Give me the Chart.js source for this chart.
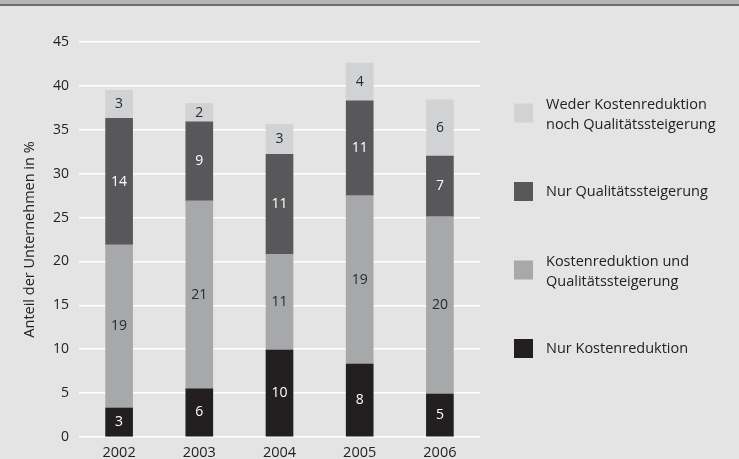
<!DOCTYPE html>
<html>
<head>
<meta charset="utf-8">
<script src="https://cdn.jsdelivr.net/npm/chart.js@4/dist/chart.umd.min.js"></script>
<style>
  body { margin: 0; background: #e4e4e4; }
  #wrap { width: 739px; height: 459px; position: relative; }
</style>
</head>
<body>
<div id="wrap"><canvas id="myChart" width="739" height="459"></canvas></div>
<script>
// data (bottom segment first)
var years = ["2002", "2003", "2004", "2005", "2006"];
var nurKosten = [3.3, 5.5, 9.9, 8.3, 4.9];
var kostenUndQualitaet = [18.6, 21.4, 10.9, 19.2, 20.2];
var nurQualitaet = [14.4, 9.0, 11.4, 10.8, 6.9];
var weder = [3.2, 2.1, 3.4, 4.3, 6.4];
var yTicks = [0, 5, 10, 15, 20, 25, 30, 35, 40, 45];

var FONT = "'Open Sans', sans-serif";

var series = [
    { name: ["Nur Kostenreduktion"], data: nurKosten, color: "#231f20", text: "#ffffff" },
    { name: ["Kostenreduktion und", "Qualitätssteigerung"], data: kostenUndQualitaet, color: "#a7a8aa", text: "#2a2a2a" },
    { name: ["Nur Qualitätssteigerung"], data: nurQualitaet, color: "#58585a", text: "#ffffff" },
    { name: ["Weder Kostenreduktion", "noch Qualitätssteigerung"], data: weder, color: "#d1d2d3", text: "#2a2a2a" }
];

// background + top rule
var backdrop = {
    id: "backdrop",
    beforeDraw: function (chart) {
        var c = chart.ctx;
        c.save();
        c.fillStyle = "#e4e4e4";
        c.fillRect(0, 0, chart.width, chart.height);
        c.fillStyle = "#b5b5b5";
        c.fillRect(0, 0, chart.width, 4);
        c.fillStyle = "#6e6e6e";
        c.fillRect(0, 4, chart.width, 2);
        c.restore();
    }
};

// numbers inside the segments
var segmentLabels = {
    id: "segmentLabels",
    afterDatasetsDraw: function (chart) {
        var c = chart.ctx;
        c.save();
        c.font = "14px " + FONT;
        c.textAlign = "center";
        c.textBaseline = "middle";
        chart.data.datasets.forEach(function (ds, i) {
            var meta = chart.getDatasetMeta(i);
            meta.data.forEach(function (bar, j) {
                c.fillStyle = series[i].text;
                c.fillText(Math.round(ds.data[j]), bar.x, (bar.y + bar.base) / 2);
            });
        });
        c.restore();
    }
};

// legend on the right, top item = top segment
var sideLegend = {
    id: "sideLegend",
    afterDraw: function (chart) {
        var c = chart.ctx;
        c.save();
        c.font = "14.5px " + FONT;
        c.textBaseline = "middle";
        c.textAlign = "left";
        var y = 113;
        for (var i = series.length - 1; i >= 0; i--) {
            var s = series[i];
            c.fillStyle = s.color;
            c.fillRect(514, y - 9.5, 19, 19);
            c.fillStyle = "#222222";
            var lines = s.name;
            var top = y - (lines.length - 1) * 10 + (lines.length > 1 ? 2 : 0);
            lines.forEach(function (l, k) {
                c.fillText(l, 546, top + k * 20);
            });
            y += 78.5;
        }
        c.restore();
    }
};

var ctx = document.getElementById("myChart").getContext("2d");
var chart = new Chart(ctx, {
    type: "bar",
    data: {
        labels: years,
        datasets: series.map(function (s) {
            return {
                label: s.name.join(" "),
                data: s.data,
                backgroundColor: s.color,
                borderWidth: 0,
                barThickness: 27
            };
        })
    },
    plugins: [backdrop, segmentLabels, sideLegend],
    options: {
        responsive: false,
        animation: false,
        events: [],
        layout: { padding: { top: 42, left: 21, right: 259, bottom: 0 } },
        plugins: {
            legend: { display: false },
            tooltip: { enabled: false }
        },
        scales: {
            x: {
                stacked: true,
                grid: { display: false },
                border: { display: false },
                ticks: { color: "#222222", font: { family: FONT, size: 14.5 }, padding: -1 },
                afterFit: function (scale) { scale.height = 22; }
            },
            y: {
                stacked: true,
                min: 0,
                max: 45,
                afterBuildTicks: function (scale) {
                    scale.ticks = yTicks.map(function (v) { return { value: v }; });
                },
                grid: { color: "#ffffff", lineWidth: 1.5, drawTicks: false },
                border: { display: false },
                ticks: { color: "#222222", font: { family: FONT, size: 14 }, padding: 10 },
                title: {
                    display: true,
                    text: "Anteil der Unternehmen in %",
                    color: "#222222",
                    font: { family: FONT, size: 14.5 },
                    padding: 0
                },
                afterFit: function (scale) { scale.width = 58; }
            }
        }
    }
});
</script>
</body>
</html>
